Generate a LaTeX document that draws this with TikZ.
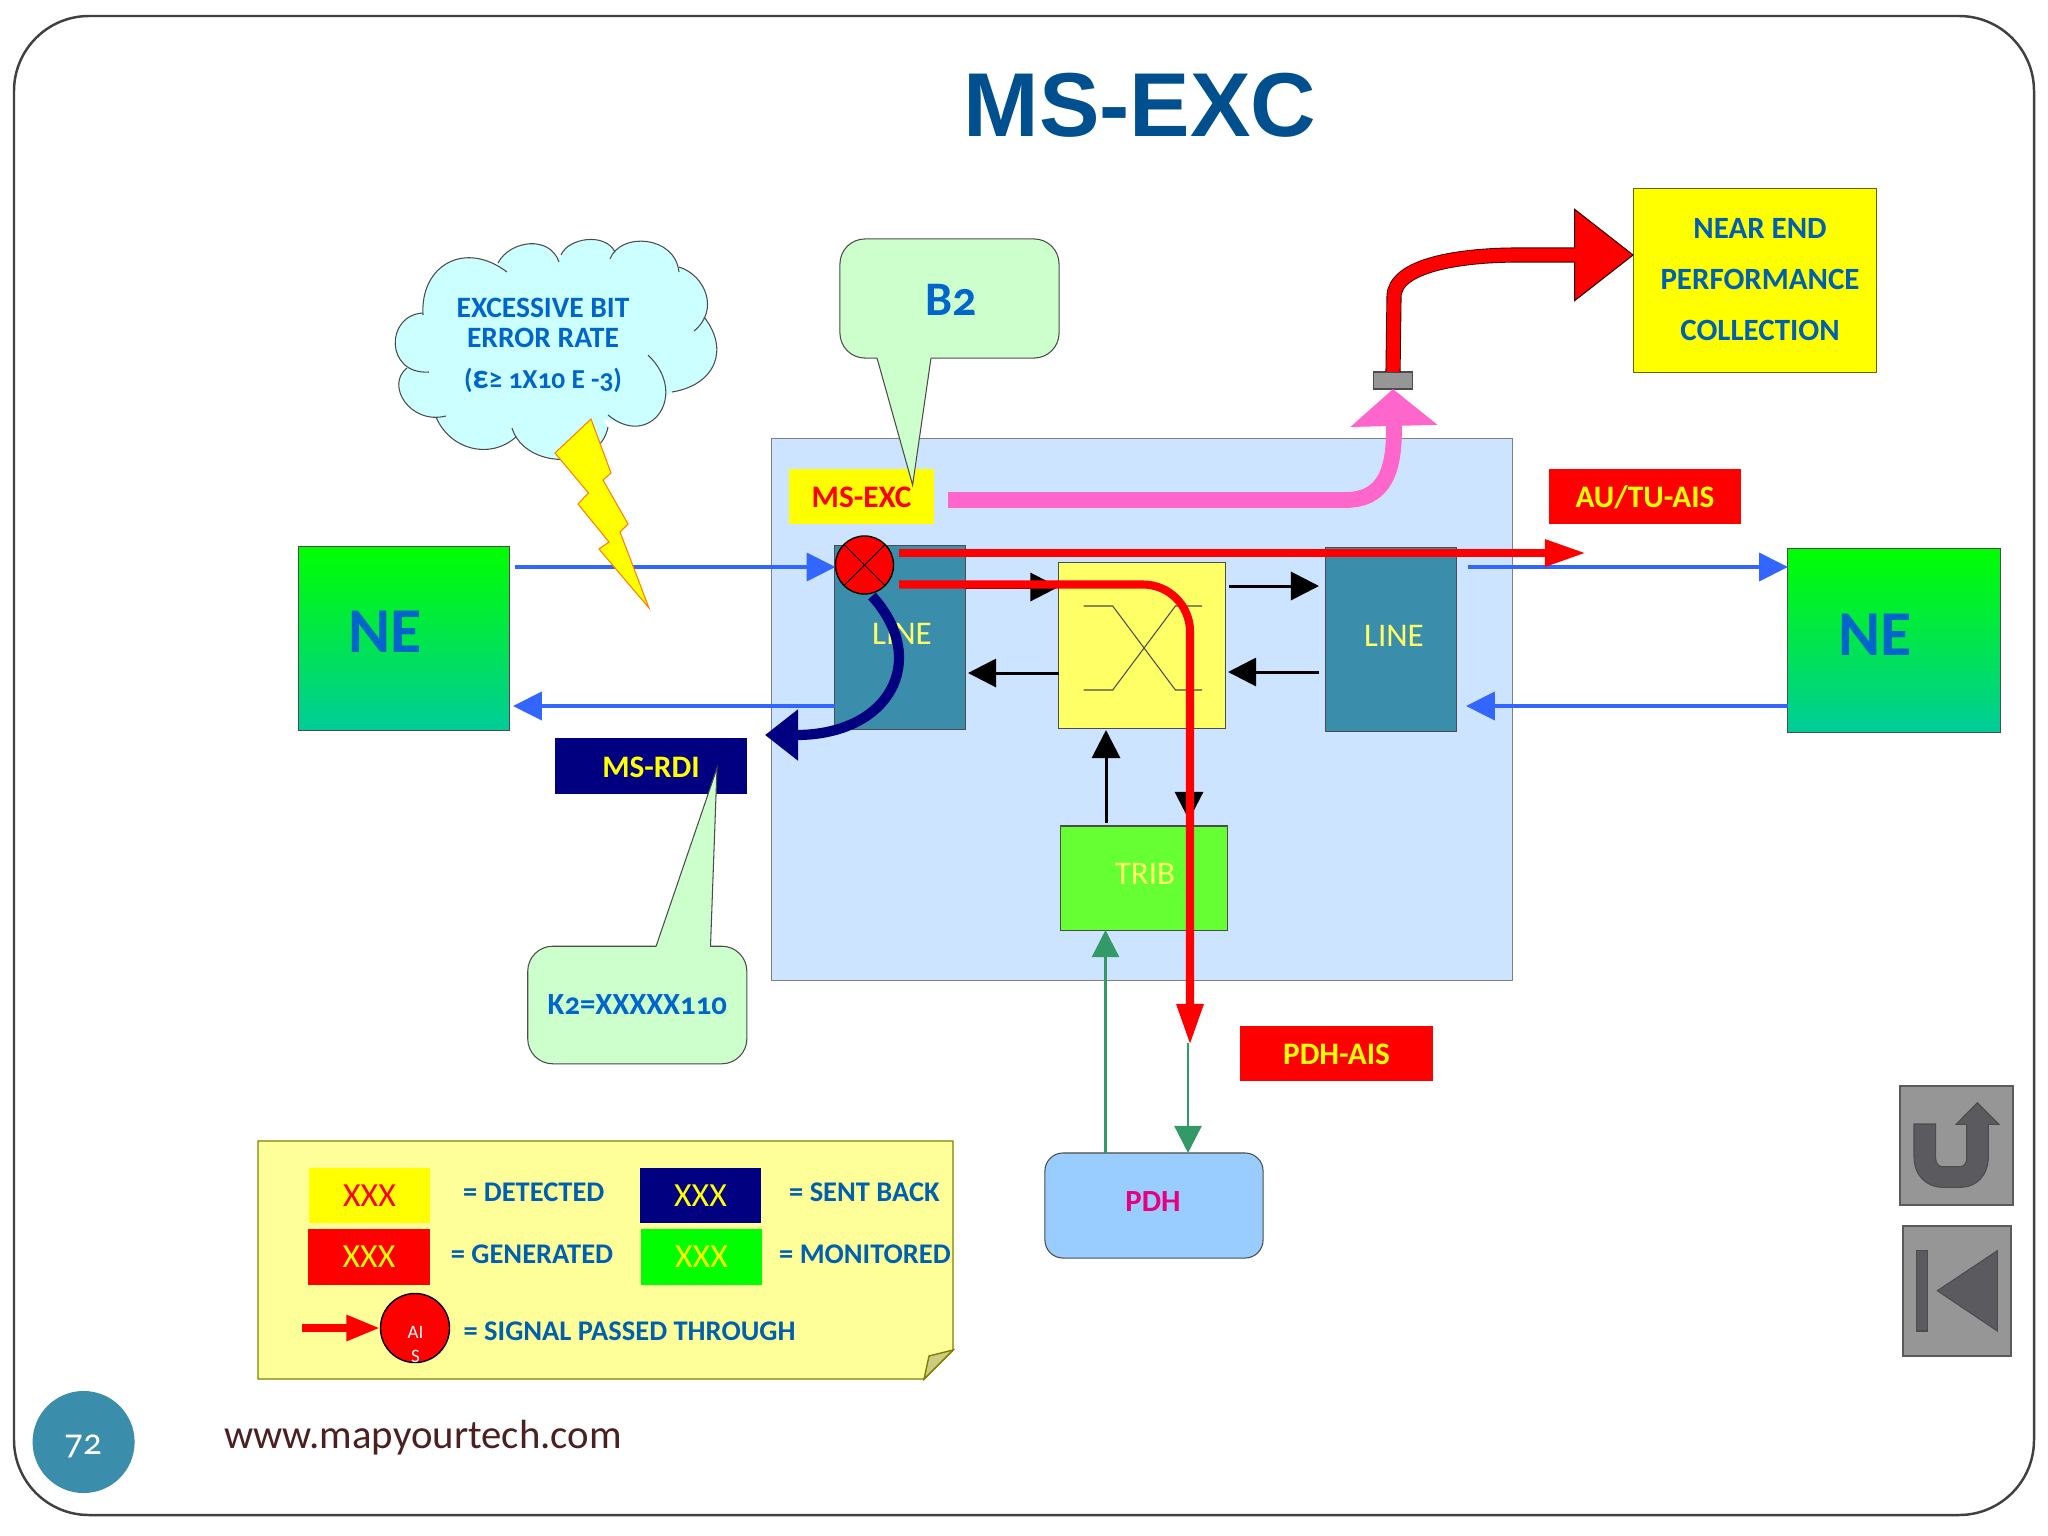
\documentclass[tikz,border=0pt]{standalone}
\usepackage{fontspec}
\setmainfont{Carlito}[Numbers=OldStyle]
\newfontfamily\titlefont{Liberation Sans}
\usetikzlibrary{arrows.meta, positioning}

\definecolor{yellow}{HTML}{FFFF00}
\definecolor{red}{HTML}{FF0000}
\definecolor{green}{HTML}{00FF00}
\definecolor{framegray}{HTML}{404040}
\definecolor{bluetext}{HTML}{0066CC}
\definecolor{inkblue}{HTML}{0060B0}
\definecolor{titleblue}{HTML}{004F8F}
\definecolor{panelblue}{HTML}{CCE4FF}
\definecolor{teal}{HTML}{3A8EAB}
\definecolor{paleyellow}{HTML}{FFFF66}
\definecolor{notefill}{HTML}{FFFF99}
\definecolor{foldfill}{HTML}{CCCC80}
\definecolor{trib}{HTML}{66FF33}
\definecolor{mint}{HTML}{CCFFCC}
\definecolor{sky}{HTML}{CCFFFF}
\definecolor{pdhblue}{HTML}{99CCFF}
\definecolor{pdhtext}{HTML}{E6007E}
\definecolor{navy}{HTML}{000080}
\definecolor{linkblue}{HTML}{3366FF}
\definecolor{linkgreen}{HTML}{339966}
\definecolor{hotpink}{HTML}{FF66CC}
\definecolor{btngray}{HTML}{969696}
\definecolor{btndark}{HTML}{5A5A5F}
\definecolor{urlbrown}{HTML}{4A2020}
\definecolor{nebottom}{HTML}{00CC99}

\begin{document}
\begin{tikzpicture}[x=0.01cm, y=-0.01cm]
    \tikzstyle{box} = [rectangle, draw=black!70, line width=0.3pt, inner sep=0pt, outer sep=0pt, text centered]
    \tikzstyle{tag} = [rectangle, inner sep=0pt, outer sep=0pt, text centered, text height=6.4pt, text depth=0pt, font=\fontsize{8.9}{10}\selectfont\bfseries]
    \tikzstyle{key} = [rectangle, inner sep=0pt, outer sep=0pt, minimum height=0.555cm, font=\fontsize{9.6}{11}\selectfont]
    \tikzstyle{ne} = [box, top color=green, bottom color=nebottom]
    \tikzstyle{netext} = [font=\fontsize{18.2}{20}\selectfont\bfseries, text=bluetext]
    \tikzstyle{blocktext} = [font=\fontsize{9.4}{11}\selectfont, text=paleyellow]
    \tikzstyle{legendtext} = [font=\fontsize{8.1}{10}\selectfont\bfseries, text=inkblue]
    \tikzstyle{cloudtext} = [font=\fontsize{8.4}{10}\selectfont\bfseries, text=bluetext]
    \tikzstyle{perftext} = [font=\fontsize{8.8}{10}\selectfont\bfseries, text=inkblue]
    \tikzstyle{callout} = [fill=mint, draw=black!70, line width=0.3pt]
    \tikzstyle{outline} = [black!70, line width=0.3pt]
    \tikzstyle{blue arrow} = [draw=linkblue, line width=0.9pt, -{Triangle[length=8.2pt, width=8pt]}]
    \tikzstyle{black arrow} = [draw=black, line width=0.85pt, -{Triangle[length=8pt, width=8pt]}]
    \tikzstyle{green arrow} = [draw=linkgreen, line width=0.7pt, -{Triangle[length=7.7pt, width=7.7pt]}]
    \tikzstyle{red arrow} = [draw=red, line width=2.3pt, -{Triangle[length=11.7pt, width=7.2pt]}]
    \tikzstyle{button} = [rectangle, draw=btndark, fill=btngray, line width=0.5pt, inner sep=0pt, outer sep=0pt]

    \useasboundingbox (0,0) rectangle (2048,1536);
    \fill [white] (0,0) rectangle (2048,1536);
    \draw [framegray, line width=0.7pt, rounded corners=0.75cm] (14,16) rectangle (2034,1515);

    \node (title) at (1140,105) {\titlefont\fontsize{25.8}{30}\selectfont\bfseries\color{titleblue}MS-EXC};

    \node (panel) [box, fill=panelblue, draw=black!50, minimum width=7.41cm, minimum height=5.41cm] at (1142,709.5) {};

    \coordinate (cloudmid) at (545,345);
    \fill [sky] (423,313) -- (503,268) -- (560,258) -- (612,255) -- (679,270) -- (700,325) -- (672,392) -- (625,425) -- (608,420) -- (512,432) -- (440,417) -- (407,368) -- (429,372) -- cycle;
    \fill [sky] (423,315) .. controls (420,265) and (465,240) .. (507,272) -- (cloudmid) -- cycle;
    \fill [sky] (498,263) .. controls (510,240) and (550,235) .. (559,262) -- (cloudmid) -- cycle;
    \fill [sky] (561,255) .. controls (568,238) and (605,232) .. (615,252) -- (cloudmid) -- cycle;
    \fill [sky] (610,259) .. controls (620,232) and (675,235) .. (679,272) -- (cloudmid) -- cycle;
    \fill [sky] (679,267) .. controls (705,275) and (720,310) .. (694,331) -- (cloudmid) -- cycle;
    \fill [sky] (704,317) .. controls (730,350) and (715,385) .. (672,392) -- (cloudmid) -- cycle;
    \fill [sky] (648,355) .. controls (690,395) and (650,450) .. (608,415) -- (cloudmid) -- cycle;
    \fill [sky] (608,427) .. controls (600,470) and (525,470) .. (512,428) -- (cloudmid) -- cycle;
    \fill [sky] (516,437) .. controls (490,460) and (450,450) .. (436,417) -- (cloudmid) -- cycle;
    \fill [sky] (446,416) .. controls (410,425) and (385,385) .. (407,368) -- (cloudmid) -- cycle;
    \fill [sky] (429,372) .. controls (385,375) and (385,315) .. (423,313) -- (cloudmid) -- cycle;
    \draw [outline] (423,315) .. controls (420,265) and (465,240) .. (507,272);
    \draw [outline] (498,263) .. controls (510,240) and (550,235) .. (559,262);
    \draw [outline] (561,255) .. controls (568,238) and (605,232) .. (615,252);
    \draw [outline] (610,259) .. controls (620,232) and (675,235) .. (679,272);
    \draw [outline] (679,267) .. controls (705,275) and (720,310) .. (694,331);
    \draw [outline] (704,317) .. controls (730,350) and (715,385) .. (672,392);
    \draw [outline] (648,355) .. controls (690,395) and (650,450) .. (608,415);
    \draw [outline] (608,427) .. controls (600,470) and (525,470) .. (512,428);
    \draw [outline] (516,437) .. controls (490,460) and (450,450) .. (436,417);
    \draw [outline] (446,416) .. controls (410,425) and (385,385) .. (407,368);
    \draw [outline] (429,372) .. controls (385,375) and (385,315) .. (423,313);
    \node (cloudA) [cloudtext] at (543,308) {EXCESSIVE BIT};
    \node (cloudB) [cloudtext] at (543,338) {ERROR RATE};
    \node (cloudC) [cloudtext, font=\fontsize{7.8}{10}\selectfont\bfseries] at (543,380) {({\fontsize{10}{10}\selectfont ε}≥ 1X10 E -3)};

    \node (b2) [rectangle, rounded corners=0.25cm, callout, minimum width=2.19cm, minimum height=1.19cm, outer sep=0pt, inner sep=0pt, font=\fontsize{13.7}{15}\selectfont\bfseries, text=bluetext] at (949.5,298.5) {};
    \node (b2text) [font=\fontsize{13.7}{15}\selectfont\bfseries, text=bluetext] at (951,300) {B2};
    \node (msexc) [tag, fill=yellow, text=red, minimum width=1.45cm, minimum height=0.55cm] at (861.5,496.5) {MS-EXC};
    \fill [mint] (877,356) -- (877,358) -- (912.6,485) -- (931,358) -- (931,356) -- cycle;
    \draw [outline] (877,358) -- (912.6,485) -- (931,358);

    \node (neA) [ne, minimum width=2.11cm, minimum height=1.83cm] at (404,638.5) {};
    \node (neB) [ne, minimum width=2.12cm, minimum height=1.845cm] at (1894,640.5) {};
    \node (neAtext) [netext] at (385,632) {NE};
    \node (neBtext) [netext] at (1875,635) {NE};

    \node (lineA) [box, fill=teal, minimum width=1.305cm, minimum height=1.83cm] at (900,637.5) {};
    \node (lineAtext) [blocktext] at (902,634) {LINE};
    \node (lineB) [box, fill=teal, minimum width=1.31cm, minimum height=1.83cm] at (1391,639.5) {};
    \node (lineBtext) [blocktext] at (1394,635.5) {LINE};
    \node (switch) [box, fill=paleyellow, minimum width=1.665cm, minimum height=1.655cm] at (1141.8,645.5) {};
    \draw [outline] (1083.6,606) -- (1112.7,606) -- (1175.4,690) -- (1202,690);
    \draw [outline] (1083.6,690) -- (1112.7,690) -- (1175.4,606) -- (1202,606);
    \node (tribbox) [box, fill=trib, minimum width=1.67cm, minimum height=1.04cm] at (1144,878) {};
    \node (tribtext) [blocktext] at (1145,873.5) {TRIB};

    \coordinate (lineBin) at (1319,586);
    \coordinate (lineBout) at (1319,672);
    \draw [black arrow] (lineA.east |- 0,587) -- (switch.west |- 0,587);
    \draw [black arrow] (1229,586) -- (lineBin);
    \draw [black arrow] (lineBout) -- (1228,672);
    \draw [black arrow] (switch.west |- 0,673) -- (968,673);
    \draw [black arrow] (1106,823) -- (1106,730);
    \draw [black arrow] (1189,728.5) -- (1189,820);

    \coordinate (pinkstart) at (948,500);
    \node (port) [box, fill=btngray, minimum width=0.385cm, minimum height=0.17cm] at (1393,380.5) {};
    \draw [draw=hotpink, line width=4.5pt, -{Triangle[length=10.5pt, width=24.2pt]}] (pinkstart) -- (1345,500) .. controls (1385,500) and (1395,470) .. (port.south);

    \node (perf) [box, fill=yellow, draw=black!60!yellow, minimum width=2.42cm, minimum height=1.83cm] at (1755,280.5) {};
    \node (perfA) [perftext] at (1760,228) {NEAR END};
    \node (perfB) [perftext] at (1760,279) {PERFORMANCE};
    \node (perfC) [perftext] at (1760,330) {COLLECTION};
    \draw [draw=black!80!red, line width=4.3pt, -{Triangle[length=17pt, width=26.5pt, fill=red, line width=0.3pt]}] (port.north) -- (1394,297) .. controls (1394,265) and (1460,255) .. (1518,255) -- (perf.west |- 0,255);
    \draw [draw=red, line width=3.8pt] (port.north) -- (1394,297) .. controls (1394,265) and (1460,255) .. (1518,255) -- (1580,255);

    \node (autu) [tag, fill=red, text=yellow, minimum width=1.92cm, minimum height=0.55cm] at (1645,496.5) {AU/TU-AIS};
    \node (pdhais) [tag, fill=red, text=yellow, minimum width=1.92cm, minimum height=0.55cm] at (1336.5,1053.5) {PDH-AIS};
    \node (msrdi) [tag, fill=navy, text=yellow, minimum width=1.92cm, minimum height=0.56cm] at (651,766) {MS-RDI};

    \node (k2) [rectangle, rounded corners=0.25cm, callout, minimum width=2.19cm, minimum height=1.175cm, outer sep=0pt, inner sep=0pt, font=\fontsize{8.75}{10}\selectfont\bfseries, text=bluetext] at (637.3,1005) {K2=XXXXX110};
    \fill [mint] (656,948) -- (656,946.5) -- (717,768) -- (710.5,946.5) -- (710.5,948) -- cycle;
    \draw [outline] (656,946.5) -- (717,768) -- (710.5,946.5);

    \node (pdh) [rectangle, rounded corners=0.18cm, box, fill=pdhblue, minimum width=2.18cm, minimum height=1.05cm] at (1154,1205.5) {};
    \node (pdhtextnode) [font=\fontsize{8.75}{10}\selectfont\bfseries, text=pdhtext] at (1153,1201.5) {PDH};

    \coordinate (neAout) at (515,567);
    \coordinate (neAin) at (513,706);
    \coordinate (neBout) at (1468,567);
    \coordinate (lineBback) at (1466,706);
    \coordinate (pdhaistip) at (1188,1043);
    \node (xnode) [circle, draw=black, fill=red, line width=0.4pt, minimum size=0.58cm, inner sep=0pt, outer sep=0pt] at (864.5,565) {};
    \draw [blue arrow] (neAout) -- (xnode.west |- neAout);
    \draw [blue arrow] (lineA.west |- neAin) -- (neAin);
    \draw [blue arrow] (neBout) -- (neB.west |- neBout);
    \draw [blue arrow] (neB.west |- lineBback) -- (lineBback);
    \draw [green arrow] (pdh.north -| 1105.5,0) -- (tribbox.south -| 1105.5,0);
    \draw [green arrow] (pdhaistip) -- (pdh.north -| pdhaistip);

    \fill [yellow, draw=orange, line width=0.3pt] (591,419) -- (611,473) -- (603,480) -- (628,524) -- (620,532) -- (649,608) -- (599,549) -- (609,542) -- (578,504) -- (588.5,493) -- (555,453) -- cycle;

    \draw [black, line width=0.3pt] (xnode.45) -- (xnode.225);
    \draw [black, line width=0.3pt] (xnode.135) -- (xnode.315);
    \draw [draw=navy, line width=2.9pt, -{Triangle[length=9.4pt, width=14pt]}] (872,596) .. controls (930,660) and (890,735) .. (765,735);
    \draw [red arrow] (899,553) -- (1586,553);
    \draw [red arrow, rounded corners=0.47cm] (899,584.5) -- (1190,584.5) -- (1190,1045);

    \draw [draw=black!50!yellow, fill=notefill, line width=0.4pt] (258,1141) -- (953,1141) -- (953,1350) -- (924,1379) -- (258,1379) -- cycle;
    \draw [draw=black!50!yellow, fill=foldfill, line width=0.4pt] (953,1350) -- (929,1356) -- (924,1379) -- cycle;

    \node (keyA) [key, fill=yellow, text=red, minimum width=1.215cm] at (369.5,1195.5) {XXX};
    \node (keyB) [key, fill=red, text=yellow, minimum width=1.215cm] at (369,1257) {XXX};
    \node (keyC) [key, fill=navy, text=yellow, minimum width=1.2cm] at (700.5,1195.5) {XXX};
    \node (keyD) [key, fill=green, text=yellow, minimum width=1.21cm] at (701.5,1257) {XXX};
    \node (keyAtext) [legendtext] at (533.8,1192) {= DETECTED};
    \node (keyBtext) [legendtext] at (532,1254) {= GENERATED};
    \node (keyCtext) [legendtext] at (864.4,1192) {= SENT BACK};
    \node (keyDtext) [legendtext] at (865,1254) {= MONITORED};
    \node (aisnode) [circle, draw=black, fill=red, line width=0.4pt, minimum size=0.69cm, inner sep=0pt, outer sep=0pt] at (415,1328) {};
    \node (aisA) [text=white, font=\fontsize{5.4}{6}\selectfont] at (415.6,1332) {AI};
    \node (aisB) [text=white, font=\fontsize{5.4}{6}\selectfont] at (415.6,1356.7) {S};
    \coordinate (aisstart) at (302,1328);
    \draw [draw=red, line width=2.5pt, -{Triangle[length=9.7pt, width=6.8pt]}] (aisstart) -- (aisnode.west);
    \node (aistext) [legendtext] at (629.5,1331) {= SIGNAL PASSED THROUGH};

    \node (page) [circle, fill=teal, minimum size=1.02cm, inner sep=0pt] at (83.6,1442) {};
    \node (pagetext) [text=white, font=\fontsize{10.5}{12}\selectfont] at (83,1446) {72};
    \node (url) [text=urlbrown, font=\fontsize{11.6}{13}\selectfont] at (423,1437.5) {www.mapyourtech.com};

    \node (btnA) [button, minimum width=1.125cm, minimum height=1.195cm] at (1956.5,1145.5) {};
    \draw [draw=black!70, fill=btndark, line width=0.3pt] (1914,1124) -- (1935.7,1124) -- (1935.7,1158.3) .. controls (1935.7,1163) and (1938,1166.7) .. (1943,1166.7) -- (1960,1166.7) .. controls (1964,1166.7) and (1966.7,1163) .. (1966.7,1158.3) -- (1966.7,1124.3) -- (1956,1124.3) -- (1977.3,1102.7) -- (1999,1124.3) -- (1988.3,1124.3) -- (1988.3,1156.7) .. controls (1988.3,1175) and (1977,1187.3) .. (1960,1187.3) -- (1943,1187.3) .. controls (1926,1187.3) and (1914,1175) .. (1914,1156.7) -- cycle;
    \node (btnB) [button, minimum width=1.075cm, minimum height=1.3cm] at (1957,1290.7) {};
    \draw [draw=black!70, fill=btndark, line width=0.3pt] (1916.7,1250.7) rectangle (1927.3,1331);
    \draw [draw=black!70, fill=btndark, line width=0.3pt] (1937.3,1290.7) -- (1997.3,1250.7) -- (1997.3,1331) -- cycle;
\end{tikzpicture}
\end{document}
